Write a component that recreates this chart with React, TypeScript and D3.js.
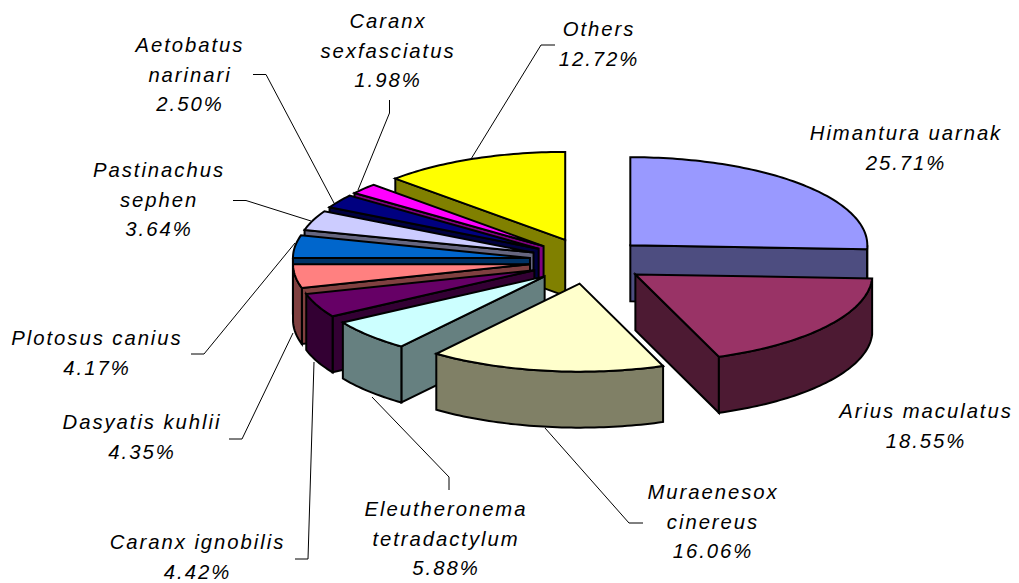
import React from "react";
import * as d3 from "d3";

const species = [
  "Himantura uarnak", "Arius maculatus", "Muraenesox cinereus", "Eleutheronema tetradactylum",
  "Caranx ignobilis", "Dasyatis kuhlii", "Plotosus canius", "Pastinachus sephen",
  "Aetobatus narinari", "Caranx sexfasciatus", "Others",
];
const percents = [25.71, 18.55, 16.06, 5.88, 4.42, 4.35, 4.17, 3.64, 2.5, 1.98, 12.72];
const topColors = ["#9999FF", "#993366", "#FFFFCC", "#CCFFFF", "#660066", "#FF8080", "#0066CC", "#CCCCFF", "#000080", "#FF00FF", "#FFFF00"];
const sideColors = ["#4D4D80", "#4D1A33", "#808066", "#668080", "#330033", "#804040", "#003366", "#666680", "#000040", "#800080", "#808000"];
const labelLines = [
  ["Himantura uarnak"], ["Arius maculatus"], ["Muraenesox", "cinereus"], ["Eleutheronema", "tetradactylum"],
  ["Caranx ignobilis"], ["Dasyatis kuhlii"], ["Plotosus canius"], ["Pastinachus", "sephen"],
  ["Aetobatus", "narinari"], ["Caranx", "sexfasciatus"], ["Others"],
];
const labelCenterX = [906, 926, 713, 446, 197.5, 142, 97, 159, 190, 388, 599];
const labelFirstBaseline = [140, 418, 499, 516, 549, 429, 345, 177, 52, 28, 36];
const leaders: [number, number][][] = [
  [], [],
  [[643, 523], [629, 523], [545, 428]],
  [[449, 490], [449, 477], [372, 397]],
  [[295, 559], [308, 559], [314, 362]],
  [[229, 439], [242, 439], [293, 333]],
  [[191, 354], [204, 354], [295, 243]],
  [[233, 200.5], [246, 200.5], [311, 221]],
  [[253, 74.5], [266, 74.5], [334, 203]],
  [[389.5, 100], [389.5, 113], [358, 190]],
  [[555, 45], [541, 45], [471, 159]],
];

const CX = 588, CY = 261, RX = 237, RY = 88, DEPTH = 56, EXPLODE_X = 0.247, EXPLODE_Y = 0.26;
const LINE_H = 29.6;

const scaleX = d3.scaleLinear().domain([-1, 1]).range([-RX, RX]);
const scaleY = d3.scaleLinear().domain([-1, 1]).range([-RY, RY]);
const line = d3.line<[number, number]>();

export default function App() {
  const pie = d3.pie<number>().sort(null).startAngle(0).endAngle(2 * Math.PI);
  const arcs = pie(percents);

  const slices = arcs.map((a, i) => {
    const mid = (a.startAngle + a.endAngle) / 2;
    const ax = CX + EXPLODE_X * scaleX(Math.sin(mid));
    const ay = CY + EXPLODE_Y * scaleY(-Math.cos(mid));
    const rim = (t: number): [number, number] => [ax + scaleX(Math.sin(t)), ay + scaleY(-Math.cos(t))];
    const apex: [number, number] = [ax, ay];
    const down = (p: [number, number]): [number, number] => [p[0], p[1] + DEPTH];
    const sample = (t0: number, t1: number) => {
      const n = Math.max(2, Math.ceil((t1 - t0) / 0.02));
      return d3.range(n + 1).map((k) => rim(t0 + ((t1 - t0) * k) / n));
    };
    const topPts = [apex, ...sample(a.startAngle, a.endAngle)];
    const faces: [number, number][][] = [];
    if (Math.sin(a.startAngle) < -1e-6) {
      const r = rim(a.startAngle);
      faces.push([apex, r, down(r), down(apex)]);
    }
    if (Math.sin(a.endAngle) > 1e-6) {
      const r = rim(a.endAngle);
      faces.push([apex, r, down(r), down(apex)]);
    }
    const w0 = Math.max(a.startAngle, Math.PI / 2);
    const w1 = Math.min(a.endAngle, (3 * Math.PI) / 2);
    if (w1 > w0) {
      const pts = sample(w0, w1);
      faces.push([...pts, ...pts.slice().reverse().map(down)]);
    }
    return { i, mid, topPts, faces };
  });
  const order = slices.slice().sort((p, q) => d3.ascending(-Math.cos(p.mid), -Math.cos(q.mid)));

  return (
    <svg width={1019} height={583} style={{ position: "fixed", left: 0, top: 0, background: "#fff" }}>
      {leaders.map((l, i) =>
        l.length ? <path key={i} d={line(l) as string} fill="none" stroke="#000" strokeWidth={1} /> : null
      )}
      {order.map((s) => (
        <g key={s.i} stroke="#000" strokeWidth={2} strokeLinejoin="miter">
          {s.faces.map((f, k) => (
            <path key={k} d={(line(f) as string) + "Z"} fill={sideColors[s.i]} />
          ))}
          <path d={(line(s.topPts) as string) + "Z"} fill={topColors[s.i]} />
        </g>
      ))}
      {species.map((name, i) => (
        <text
          key={name}
          textAnchor="middle"
          fontFamily="'Liberation Sans', Arial, sans-serif"
          fontSize={20.3}
          fontStyle="italic"
          letterSpacing={1.95}
          fill="#000"
        >
          {[...labelLines[i], percents[i].toFixed(2) + "%"].map((t, k) => (
            <tspan key={k} x={labelCenterX[i]} y={labelFirstBaseline[i] + k * LINE_H}>{t}</tspan>
          ))}
        </text>
      ))}
    </svg>
  );
}
